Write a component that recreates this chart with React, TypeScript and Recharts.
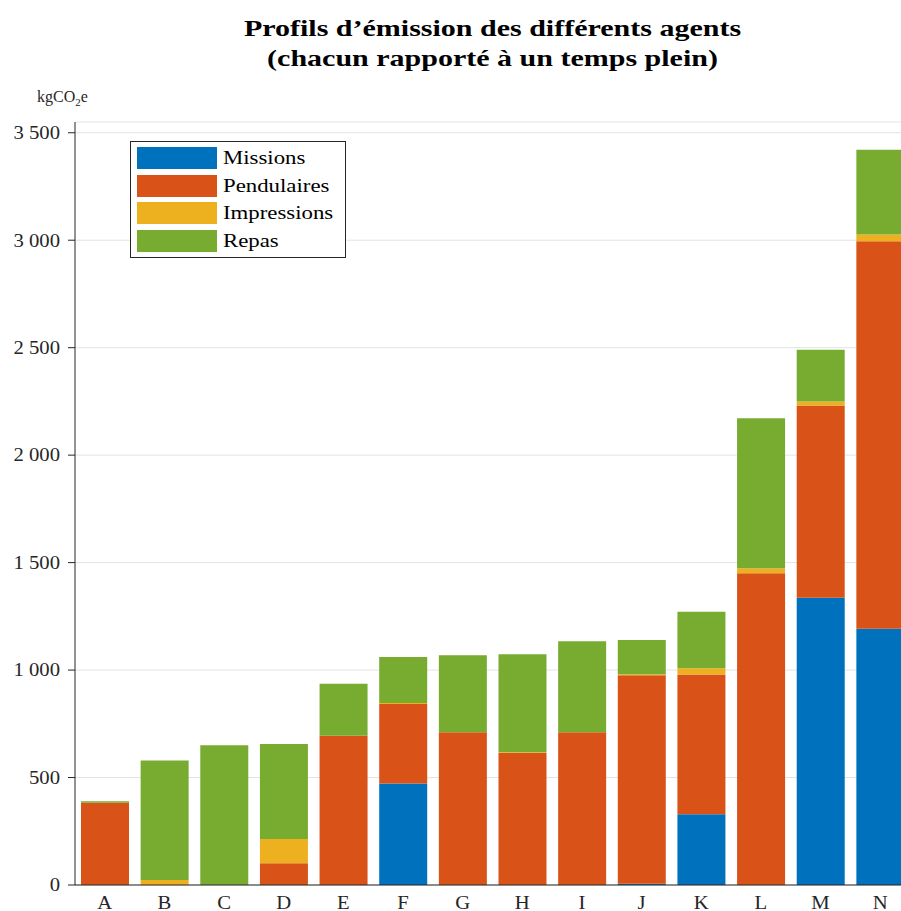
import React from 'react';
import { BarChart, Bar, XAxis, YAxis, CartesianGrid } from 'recharts';

const categories = ['A', 'B', 'C', 'D', 'E', 'F', 'G', 'H', 'I', 'J', 'K', 'L', 'M', 'N'];
const missions = [0, 0, 0, 0, 0, 472, 0, 0, 0, 6, 329, 0, 1337, 1192];
const pendulaires = [383, 0, 0, 101, 694, 370, 711, 614, 711, 970, 650, 1451, 894, 1803];
const impressions = [0, 23, 0, 113, 0, 5, 0, 4, 0, 4, 30, 23, 19, 31];
const repas = [7, 556, 650, 442, 242, 214, 358, 456, 423, 160, 262, 698, 240, 395];
const yTicks = [0, 500, 1000, 1500, 2000, 2500, 3000, 3500];

const seriesNames = ['Missions', 'Pendulaires', 'Impressions', 'Repas'];
const seriesColors = ['#0072BD', '#D95319', '#EDB120', '#77AC30'];
const seriesKeys = ['missions', 'pendulaires', 'impressions', 'repas'];

const data = categories.map((c, i) => ({
  name: c,
  missions: missions[i],
  pendulaires: pendulaires[i],
  impressions: impressions[i],
  repas: repas[i],
}));

const FONT = '"Liberation Serif", "DejaVu Serif", serif';
const INK = '#262626';

const fmt = (v: number) => {
  const s = String(v);
  return s.length > 3 ? s.slice(0, s.length - 3) + ' ' + s.slice(s.length - 3) : s;
};

const YTick = (props: any) => {
  const { x, y, payload } = props;
  return (
    <text
      transform={`translate(${x},${y}) scale(1.15,1)`}
      textAnchor="end"
      dy="0.35em"
      fill={INK}
      fontSize={18}
      fontFamily={FONT}
    >
      {fmt(payload.value)}
    </text>
  );
};

const XTick = (props: any) => {
  const { x, y, payload } = props;
  return (
    <text
      transform={`translate(${x},${y}) scale(1.15,1)`}
      textAnchor="middle"
      dy="0.71em"
      fill={INK}
      fontSize={18}
      fontFamily={FONT}
    >
      {payload.value}
    </text>
  );
};

export default function App() {
  return (
    <div style={{ position: 'relative', width: 901, height: 911, overflow: 'hidden', fontFamily: FONT, color: INK }}>
      <style>{'html,body{margin:0;padding:0;overflow:hidden;}'}</style>
      <div
        style={{
          position: 'absolute',
          left: 75,
          width: 835,
          top: 13,
          textAlign: 'center',
          fontWeight: 'bold',
          fontSize: 24,
          lineHeight: '30px',
          color: '#000',
          transform: 'scaleX(1.25)',
          transformOrigin: '417.5px 0',
        }}
      >
        Profils d’émission des différents agents
        <br />
        (chacun rapporté à un temps plein)
      </div>
      <div style={{ position: 'absolute', left: 37, top: 87, fontSize: 16, lineHeight: '20px' }}>
        kgCO<sub style={{ fontSize: 11, verticalAlign: 'sub', lineHeight: 0 }}>2</sub>e
      </div>
      <BarChart
        width={910}
        height={911}
        data={data}
        margin={{ top: 122, right: 0, bottom: 0, left: 0 }}
        barSize={48}
      >
        <CartesianGrid vertical={false} stroke="#e3e3e3" />
        <XAxis
          dataKey="name"
          height={26}
          tickLine={false}
          tickSize={6}
          tickMargin={5}
          axisLine={{ stroke: INK }}
          tick={<XTick />}
          interval={0}
        />
        <YAxis
          width={75}
          domain={[0, 3550]}
          ticks={yTicks}
          tickSize={7}
          tickMargin={8}
          tickLine={{ stroke: INK }}
          axisLine={{ stroke: INK }}
          tick={<YTick />}
          allowDataOverflow
        />
        {seriesKeys.map((k, i) => (
          <Bar
            key={k}
            dataKey={k}
            name={seriesNames[i]}
            stackId="s"
            fill={seriesColors[i]}
            isAnimationActive={false}
          />
        ))}
      </BarChart>
      <div
        style={{
          position: 'absolute',
          left: 130,
          top: 141,
          width: 214,
          height: 115,
          border: `1px solid ${INK}`,
          background: '#fff',
        }}
      >
        {seriesNames.map((n, i) => (
          <div
            key={n}
            style={{ position: 'absolute', left: 6, top: 5 + i * 27.7, height: 22, display: 'flex', alignItems: 'center' }}
          >
            <div style={{ width: 80, height: 22, background: seriesColors[i] }} />
            <span
              style={{
                marginLeft: 6,
                fontSize: 19,
                color: '#000',
                display: 'inline-block',
                transform: 'scaleX(1.2)',
                transformOrigin: '0 50%',
                whiteSpace: 'nowrap',
              }}
            >
              {n}
            </span>
          </div>
        ))}
      </div>
    </div>
  );
}
